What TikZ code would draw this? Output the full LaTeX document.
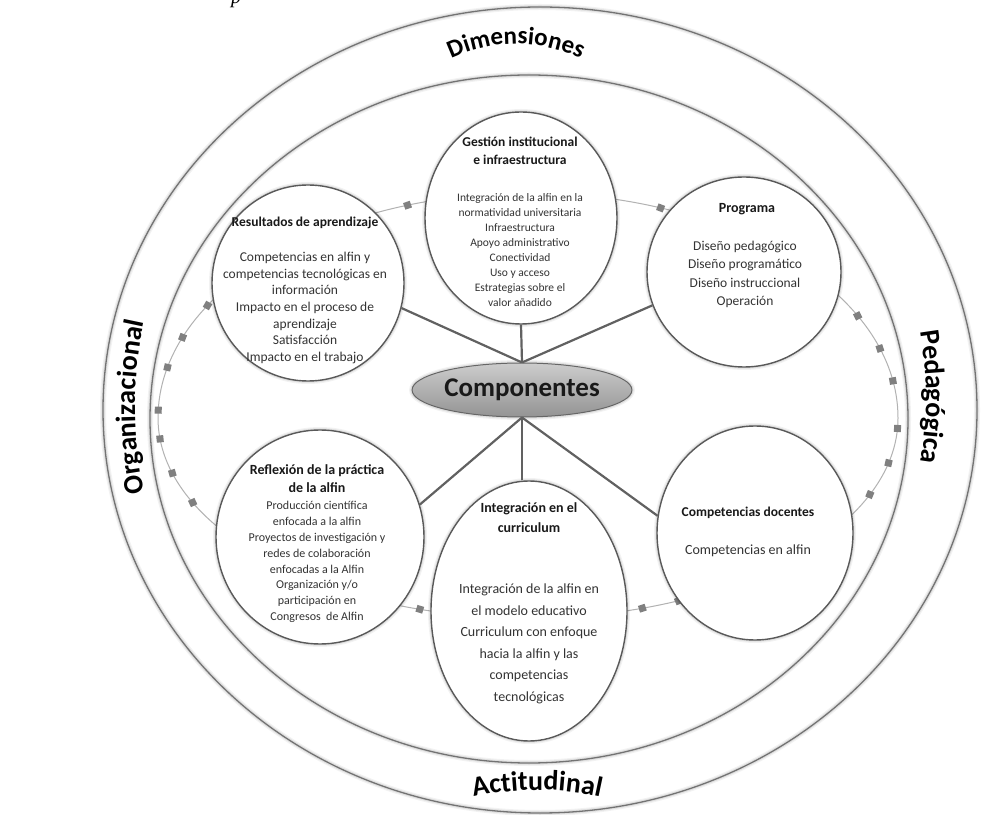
\documentclass[tikz,border=0pt]{standalone}
\usepackage{fontspec}
\setmainfont{Carlito}
\newfontfamily\capserif{Liberation Serif}
\usetikzlibrary{shapes.geometric,decorations.text}

\newcommand\ringlabelfont{\fontsize{28}{28}\selectfont\bfseries}
\newcommand\toplabelfont{\fontsize{25}{25}\selectfont\bfseries}

\tikzset{
  halo/.style={preaction={draw=black,opacity=0.05,line width=6pt},
               preaction={draw=black,opacity=0.08,line width=3.5pt}},
  dimring/.style={ellipse, draw=black!55, line width=1.3pt, inner sep=0pt, halo},
  compcircle/.style={ellipse, draw=black!65, line width=1.4pt, fill=white, inner sep=0pt, halo},
  connector/.style={draw=black!62, line width=2.2pt},
  ringdot/.style={rectangle, fill=black!50, minimum size=7pt, inner sep=0pt},
  titletext/.style={align=center, text=black!90, inner sep=0pt},
  bodytext/.style={align=center, text=black!80, inner sep=0pt},
  ringlabel/.style={decorate, decoration={text along path, text align=center, text={|\ringlabelfont|#1}}},
  toplabel/.style={decorate, decoration={text along path, text align=center, text={|\toplabelfont|#1}}}
}

\begin{document}
\begin{tikzpicture}[x=1pt,y=1pt]
\useasboundingbox (0,0) rectangle (1008,814);
\fill[white] (0,0) rectangle (1008,814);

% caption fragment cut off at the top edge
\node[anchor=base, inner sep=0pt, font=\capserif\itshape\fontsize{20}{20}\selectfont] (capfrag) at (236,810) {p};

% the two dimension rings
\node[dimring, minimum width=874pt, minimum height=806pt] (outer) at (540,404) {};
\node[dimring, minimum width=758pt, minimum height=688pt] (inner) at (529,395) {};

% dimension names written along the rings
\path[toplabel=Dimensiones] (516,620) ++(118:150) arc[start angle=118, end angle=62, radius=150];
\path[ringlabel=Actitudinal] (537,-266) ++(105:290) arc[start angle=105, end angle=75, radius=290];
\path[ringlabel=Organizacional] (535,407) ++(195:400) arc[start angle=195, end angle=165, radius=400];
\path[ringlabel=Pedagógica] (526,417) ++(12:400) arc[start angle=12, end angle=-12, radius=400];

% dotted ring linking the components (flatter below)
\draw[black!30, line width=1pt] (898,396)
  arc[start angle=0, end angle=180, x radius=370, y radius=225]
  arc[start angle=180, end angle=360, x radius=370, y radius=200];
\foreach \t [count=\i] in {109,69,150,159,167,178,27,18,9.5}
  \node[ringdot, rotate=\t] (mk\i) at ({528+370*cos(\t)},{396+225*sin(\t)}) {};
\foreach \t [count=\i] in {186,196,205,-3,-13,-22.5,-112,-107,-72,-66}
  \node[ringdot, rotate=\t] (mb\i) at ({528+370*cos(\t)},{396+200*sin(\t)}) {};

% component circles
\node[compcircle, minimum width=192pt, minimum height=212pt] (gest) at (521,596) {};
\node[compcircle, minimum width=192pt, minimum height=196pt] (res) at (308,531) {};
\node[compcircle, minimum width=194pt, minimum height=190pt] (prog) at (744,542) {};
\node[compcircle, minimum width=208pt, minimum height=214pt] (refl) at (320,277) {};
\node[compcircle, minimum width=196pt, minimum height=260pt] (integ) at (529,203) {};
\node[compcircle, minimum width=196pt, minimum height=214pt] (docen) at (755,281) {};

% central node
\node[ellipse, draw=black!60, line width=1pt, top color=black!20, bottom color=black!42,
      minimum width=192pt, minimum height=54pt, inner sep=0pt, halo,
      font=\bfseries\fontsize{27}{27}\selectfont, text=black!90] (comp) at (522,424) {Componentes};

% connectors
\draw[connector] (comp.north) -- (gest.south);
\draw[connector] (comp.north) -- (res.-15);
\draw[connector] (comp.north) -- (prog.200);
\draw[connector] (comp.south) -- (refl.18);
\draw[connector] (comp.south) -- (comp.south |- integ.north);
\draw[connector] (comp.south) -- (docen.170);

% texts
\node[titletext, font=\bfseries\fontsize{13.5}{18}\selectfont] (gestT) at (520,663)
  {Gestión institucional\\e infraestructura};
\node[bodytext, font=\fontsize{11.5}{15}\selectfont] (gestB) at (520,564)
  {Integración de la alfin en la\\normatividad universitaria\\Infraestructura\\Apoyo administrativo\\Conectividad\\Uso y acceso\\Estrategias sobre el\\valor añadido};

\node[titletext, font=\bfseries\fontsize{13.5}{18}\selectfont] (resT) at (305,591)
  {Resultados de aprendizaje};
\node[bodytext, font=\fontsize{13.5}{16.7}\selectfont] (resB) at (305,506)
  {Competencias en alfin y\\competencias tecnológicas en\\información\\Impacto en el proceso de\\aprendizaje\\Satisfacción\\Impacto en el trabajo};

\node[titletext, font=\bfseries\fontsize{14}{18}\selectfont] (progT) at (747,605) {Programa};
\node[bodytext, font=\fontsize{13.5}{18.3}\selectfont] (progB) at (745,539.5)
  {Diseño pedagógico\\Diseño programático\\Diseño instruccional\\Operación};

\node[titletext, font=\bfseries\fontsize{14}{18}\selectfont] (reflT) at (317,335)
  {Reflexión de la práctica\\de la alfin};
\node[bodytext, font=\fontsize{12}{15.9}\selectfont] (reflB) at (317,252)
  {Producción científica\\enfocada a la alfin\\Proyectos de investigación y\\redes de colaboración\\enfocadas a la Alfin\\Organización y/o\\participación en\\Congresos\ \ de Alfin};

\node[titletext, font=\bfseries\fontsize{14}{20}\selectfont] (integT) at (529,296)
  {Integración en el\\curriculum};
\node[bodytext, font=\fontsize{14}{21.5}\selectfont] (integB) at (529,170)
  {Integración de la alfin en\\el modelo educativo\\Curriculum con enfoque\\hacia la alfin y las\\competencias\\tecnológicas};

\node[titletext, font=\bfseries\fontsize{13.5}{18}\selectfont] (docenT) at (748,301) {Competencias docentes};
\node[bodytext, font=\fontsize{14}{18}\selectfont] (docenB) at (748,263) {Competencias en alfin};
\end{tikzpicture}
\end{document}
